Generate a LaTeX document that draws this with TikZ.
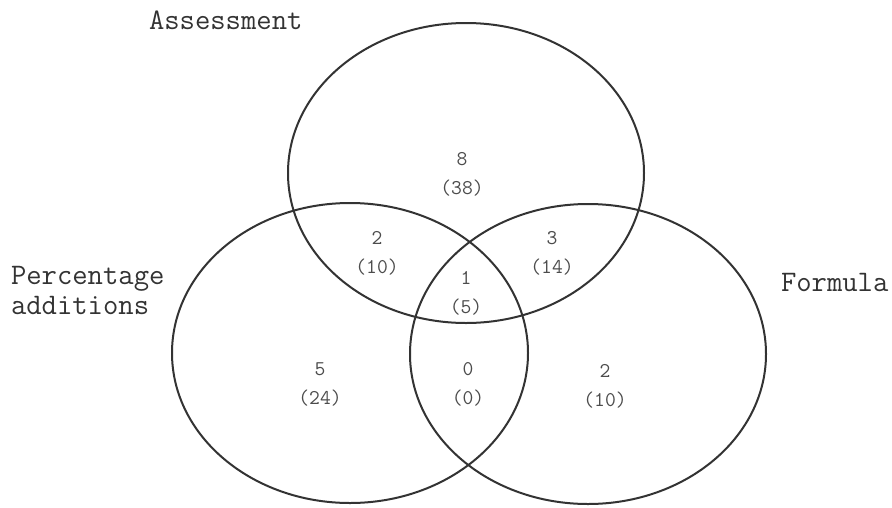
\documentclass[tikz,border=0pt]{standalone}
\usepackage{fontspec}
\usetikzlibrary{positioning}

\begin{document}
\begin{tikzpicture}[x=1pt, y=-1pt, line width=2pt,
    setline/.style={draw=black!80},
    setname/.style={font=\ttfamily\fontsize{29.8}{30}\selectfont, text=black!80, align=left, inner sep=0pt},
    count/.style={font=\ttfamily\fontsize{21}{29}\selectfont, text=black!70, align=center, inner sep=0pt}]
  \useasboundingbox (0,0) rectangle (892,507);
  % the three sets
  \coordinate (cA) at (466,173);
  \coordinate (cP) at (350,353);
  \coordinate (cF) at (588,354);
  \foreach \c in {cA,cP,cF}
    \draw[setline] (\c) ellipse (178 and 150);
  % set names
  \node[setname, anchor=west] (assess) at (148,20) {Assessment};
  \node[setname, anchor=west] (perc) at (10,290) {Percentage\\additions};
  \node[setname, anchor=west] (form) at (780,282) {Formula};
  % counts per region
  \foreach \i/\x/\y/\n/\p in {a/462/174/8/38, ap/377/253/2/10, af/552/253/3/14,
      apf/466/293/1/5, p/320/384/5/24, pf/468/384/0/0, f/605/386/2/10}
    \node[count] (cnt-\i) at (\x,\y) {\n\\(\p)};
\end{tikzpicture}
\end{document}
